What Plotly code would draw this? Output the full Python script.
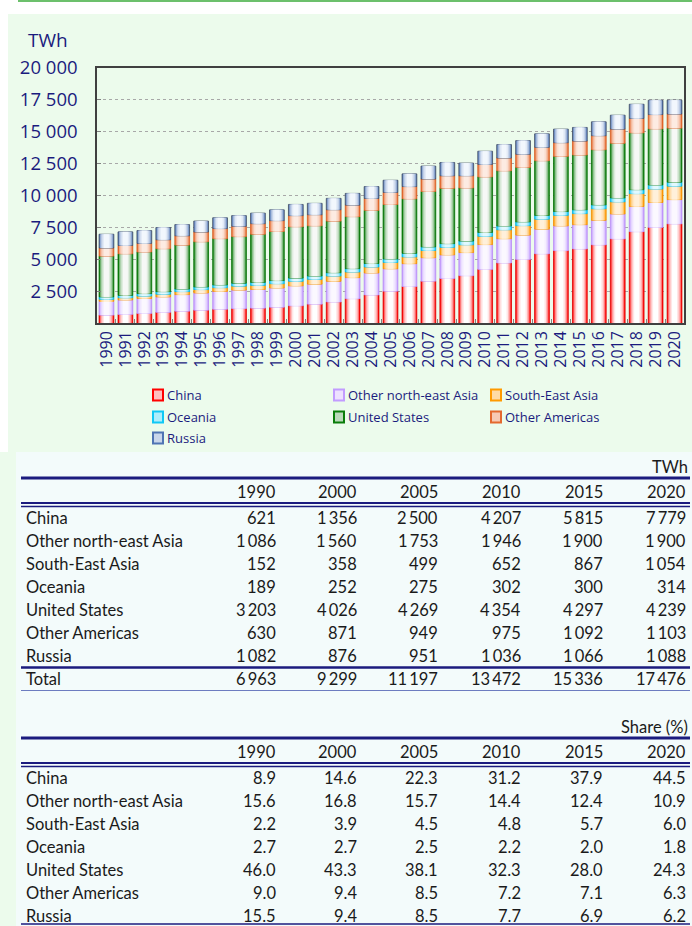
import numpy as np
import plotly.graph_objects as go

# ─── Data (TWh) ───────────────────────────────────────────────────────────────

years = list(range(1990, 2021))

china = [621, 678, 754, 840, 928, 1007, 1081, 1134, 1167, 1239, 1356,
         1480, 1654, 1911, 2204, 2500, 2866, 3282, 3496, 3715, 4207,
         4713, 4988, 5432, 5679, 5815, 6133, 6604, 7166, 7503, 7779]
ne_asia = [1086, 1130, 1170, 1210, 1300, 1350, 1400, 1450, 1470, 1510, 1560,
           1570, 1620, 1650, 1720, 1753, 1790, 1840, 1850, 1810, 1946,
           1900, 1910, 1930, 1940, 1900, 1920, 1950, 1970, 1950, 1900]
se_asia = [152, 170, 190, 210, 235, 265, 290, 310, 315, 335, 358,
           380, 410, 440, 470, 499, 530, 565, 590, 610, 652,
           700, 740, 780, 825, 867, 910, 950, 1010, 1060, 1054]
oceania = [189, 190, 195, 200, 205, 212, 220, 228, 235, 245, 252,
           258, 262, 265, 270, 275, 280, 285, 290, 295, 302,
           300, 298, 297, 298, 300, 305, 308, 312, 314, 314]
usa = [3203, 3262, 3263, 3370, 3445, 3541, 3627, 3656, 3774, 3851, 4026,
       3937, 4048, 4076, 4175, 4269, 4275, 4346, 4343, 4165, 4354,
       4326, 4270, 4290, 4330, 4297, 4322, 4286, 4460, 4401, 4239]
other_americas = [630, 650, 670, 700, 730, 760, 790, 810, 830, 850, 871,
                  870, 890, 905, 930, 949, 960, 975, 980, 955, 975,
                  1000, 1030, 1050, 1070, 1092, 1100, 1110, 1125, 1120, 1103]
russia = [1082, 1068, 1008, 957, 876, 860, 847, 834, 827, 846, 876,
          891, 891, 916, 932, 951, 996, 1015, 1040, 992, 1036,
          1055, 1069, 1059, 1064, 1066, 1091, 1091, 1115, 1121, 1088]

series_names = ["China", "Other north-east Asia", "South-East Asia", "Oceania",
                "United States", "Other Americas", "Russia"]
series_values = [china, ne_asia, se_asia, oceania, usa, other_americas, russia]

# table figures as printed (source rounds before summing)
table_years = [1990, 2000, 2005, 2010, 2015, 2020]
table_totals = [6963, 9299, 11197, 13472, 15336, 17476]
share_china = [8.9, 14.6, 22.3, 31.2, 37.9, 44.5]
share_ne_asia = [15.6, 16.8, 15.7, 14.4, 12.4, 10.9]
share_se_asia = [2.2, 3.9, 4.5, 4.8, 5.7, 6.0]
share_oceania = [2.7, 2.7, 2.5, 2.2, 2.0, 1.8]
share_usa = [46.0, 43.3, 38.1, 32.3, 28.0, 24.3]
share_other_americas = [9.0, 9.4, 8.5, 7.2, 7.1, 6.3]
share_russia = [15.5, 9.4, 8.5, 7.7, 6.9, 6.2]
share_values = [share_china, share_ne_asia, share_se_asia, share_oceania,
                share_usa, share_other_americas, share_russia]

y_ticks = [2500, 5000, 7500, 10000, 12500, 15000, 17500, 20000]

# ─── Styling ─────────────────────────────────────────────────────────────────

W, H = 692, 926
NAVY = "#1b1b7e"
PANEL = "#ecfbec"
PLOT_BG = "#f5fefe"
TABLE_BG = "#f3fbfb"

# edge colour, centre colour, outline colour
SERIES_STYLE = [
    ("#ff0000", "#ffffff", "#e00000"),
    ("#c29cff", "#fbf8ff", "#b98cf5"),
    ("#ff9a00", "#fff0da", "#f08c00"),
    ("#10c8f5", "#e2f9ff", "#00b0e0"),
    ("#0a7d0a", "#f6f8f6", "#067006"),
    ("#e4692e", "#fdebe2", "#d85a20"),
    ("#4f74b4", "#f2f7fd", "#404a60"),
]


def _mix(c1, c2, t):
    a = [int(c1[i:i + 2], 16) for i in (1, 3, 5)]
    b = [int(c2[i:i + 2], 16) for i in (1, 3, 5)]
    return "#" + "".join(f"{round(x + (y - x) * t):02x}" for x, y in zip(a, b))


def px_x(p):
    return p / W


def px_y(p):
    return 1 - p / H


def fmt_thousands(v):
    return f"{v:,}".replace(",", "\u2009")


# ─── Stacked bars with faux cylinder shading ─────────────────────────────────

fig = go.Figure()
x = [str(y) for y in years]
base = np.zeros(len(years))
layers = [(0.78, 0.0), (0.68, 0.45), (0.56, 0.72), (0.42, 0.9), (0.26, 1.0)]

for name, vals, (edge, centre, outline) in zip(series_names, series_values, SERIES_STYLE):
    vals = np.array(vals, dtype=float)
    for k, (w, t) in enumerate(layers):
        fig.add_trace(go.Bar(
            x=x, y=vals, base=base, width=w, name=name,
            marker=dict(color=_mix(edge, centre, t),
                        line=dict(color=outline if k == 0 else _mix(edge, centre, t),
                                  width=0.8 if k == 0 else 0)),
            showlegend=False, hoverinfo="skip",
        ))
    base = base + vals

# ─── Background and titles ───────────────────────────────────────────────────

shapes = [
    dict(type="rect", x0=px_x(8), x1=1, y0=px_y(452), y1=px_y(14),
         fillcolor=PANEL, line_width=0, layer="below"),
    dict(type="rect", x0=0, x1=px_x(16), y0=0, y1=px_y(452),
         fillcolor=PANEL, line_width=0, layer="below"),
    dict(type="rect", x0=px_x(16), x1=1, y0=0, y1=px_y(452),
         fillcolor=TABLE_BG, line_width=0, layer="below"),
    dict(type="line", x0=px_x(18), x1=1, y0=px_y(1), y1=px_y(1),
         line=dict(color="#6cc06c", width=2)),
]
annotations = [
    dict(text="TWh", x=px_x(26), y=px_y(40), xanchor="left", yanchor="middle",
         font=dict(family="Open Sans, sans-serif", size=19, color=NAVY)),
]

# ─── Legend (three columns, drawn by hand) ───────────────────────────────────

legend_cols = [153, 334, 491]
legend_rows = [395, 417, 438]
for i, (name, (edge, centre, outline)) in enumerate(zip(series_names, SERIES_STYLE)):
    lx, ly = legend_cols[i % 3], legend_rows[i // 3]
    shapes.append(dict(type="rect", x0=px_x(lx), x1=px_x(lx + 10), y0=px_y(ly + 5.5), y1=px_y(ly - 5.5),
                       fillcolor=_mix(edge, centre, 0.75), line=dict(color=edge, width=2)))
    annotations.append(dict(text=name, x=px_x(lx + 12), y=px_y(ly), xanchor="left", yanchor="middle",
                            font=dict(family="Open Sans, sans-serif", size=13, color=NAVY)))

# ─── Tables ──────────────────────────────────────────────────────────────────

col_right = [278, 359, 440, 523, 605, 688]
table_font = dict(family="Lato, sans-serif", size=16.5, color="#1a1a1a")
idx = [years.index(y) for y in table_years]


def hline(y, width, color=NAVY):
    shapes.append(dict(type="line", x0=px_x(21), x1=px_x(690),
                       y0=px_y(y), y1=px_y(y), line=dict(color=color, width=width)))


def text(s, xp, yp, anchor):
    annotations.append(dict(text=s, x=px_x(xp), y=px_y(yp), xanchor=anchor, yanchor="middle",
                            font=table_font))


def table(top, unit, rows, total_row=None):
    text(unit, 690, top - 11, "right")
    hline(top, 3)
    for cx, yr in zip(col_right, table_years):
        text(str(yr), cx, top + 14, "right")
    hline(top + 25, 2)
    hline(top + 28.5, 1.5)
    y = top + 40
    for label, cells in rows:
        text(label, 24, y, "left")
        for cx, c in zip(col_right, cells):
            text(c, cx, y, "right")
        y += 23
    if total_row:
        hline(y - 11.5, 2.5)
        text(total_row[0], 24, y, "left")
        for cx, c in zip(col_right, total_row[1]):
            text(c, cx, y, "right")
        hline(y + 11.5, 1.2, "#6c7cc0")
    else:
        hline(min(y - 11.5, H - 2), 1.5)


table(478,
      "TWh",
      [(n, [fmt_thousands(s[i]) for i in idx]) for n, s in zip(series_names, series_values)],
      ("Total", [fmt_thousands(t) for t in table_totals]))
table(738,
      "Share (%)",
      [(n, [f"{v:.1f}" for v in s]) for n, s in zip(series_names, share_values)])

for a in annotations:
    a.update(xref="paper", yref="paper", showarrow=False)
for s in shapes:
    s.update(xref="paper", yref="paper")

# ─── Layout ──────────────────────────────────────────────────────────────────

fig.update_layout(
    width=W, height=H,
    margin=dict(l=0, r=0, t=0, b=0, autoexpand=False),
    paper_bgcolor="#ffffff",
    plot_bgcolor=PLOT_BG,
    barmode="overlay",
    separators=". ",
    showlegend=False,
    font=dict(family="Open Sans, sans-serif", color=NAVY),
    xaxis=dict(
        domain=[px_x(97), px_x(684)], type="category", automargin=False,
        tickmode="linear", dtick=1,
        tickangle=-90, tickfont=dict(size=16, color=NAVY),
        showline=True, mirror=True, linecolor="#404040", linewidth=1.5,
        ticks="inside", ticklen=4, tickcolor="#808080", tickson="boundaries",
        showgrid=False,
    ),
    yaxis=dict(
        domain=[px_y(323), px_y(68)], range=[0, 20000], automargin=False,
        tickvals=y_ticks, tickformat=",d", tickfont=dict(size=18.5, color=NAVY),
        showline=True, mirror=True, linecolor="#404040", linewidth=1.5,
        ticks="inside", ticklen=4, tickcolor="#808080", ticklabelstandoff=14,
        showgrid=True, gridcolor="#a8a8a8", griddash="dot", gridwidth=1,
        zeroline=False,
    ),
    shapes=shapes,
    annotations=annotations,
)

fig.write_html(
    "out.html",
    config={"displayModeBar": False},
    post_script="document.body.style.margin='0';document.body.style.overflow='hidden';",
)
